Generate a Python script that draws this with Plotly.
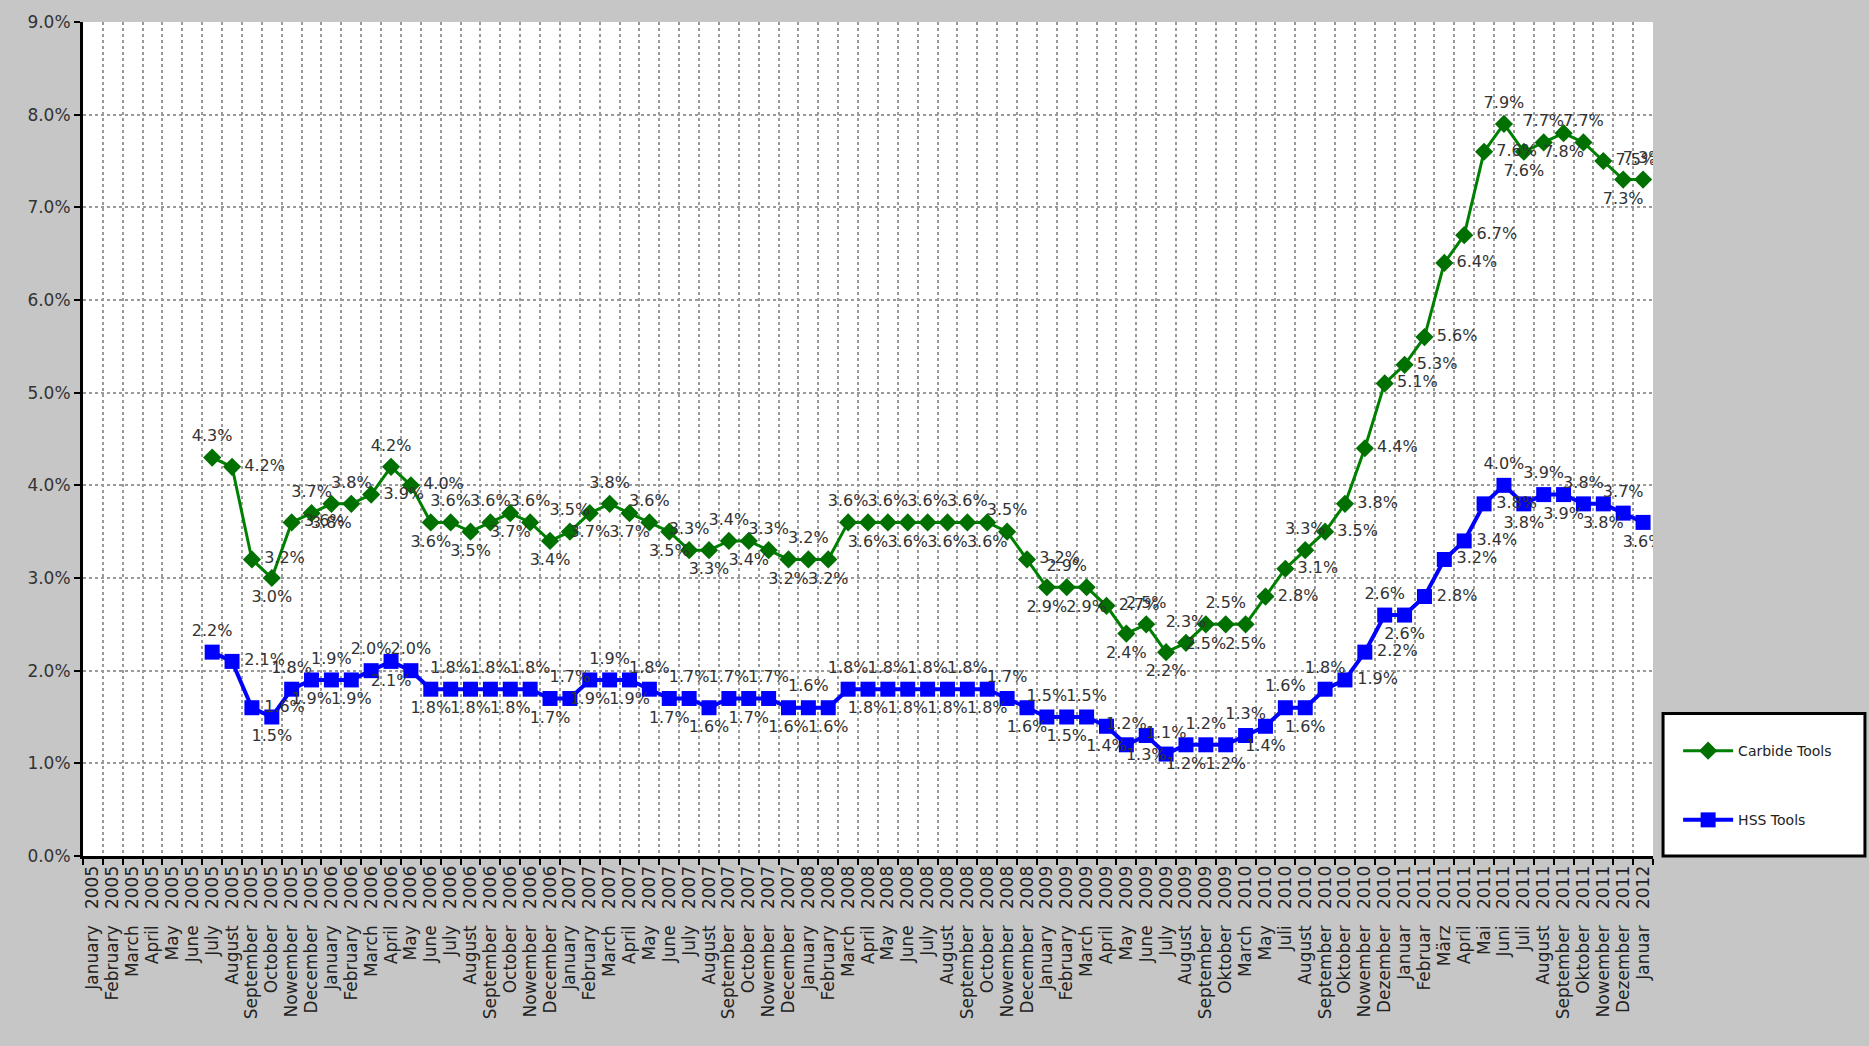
import plotly.graph_objects as go

# ---------------- data ----------------
categories = (
    [f"{m} 2005" for m in ["January", "February", "March", "April", "May", "June", "July", "August",
                           "September", "October", "Nowember", "December"]]
    + [f"{m} 2006" for m in ["January", "February", "March", "April", "May", "June", "July", "August",
                             "September", "October", "Nowember", "December"]]
    + [f"{m} 2007" for m in ["January", "February", "March", "April", "May", "June", "July", "August",
                             "September", "October", "Nowember", "December"]]
    + [f"{m} 2008" for m in ["January", "February", "March", "April", "May", "June", "July", "August",
                             "September", "October", "Nowember", "December"]]
    + [f"{m} 2009" for m in ["January", "February", "March", "April", "May", "June", "July", "August",
                             "September", "Oktober"]]
    + [f"{m} 2010" for m in ["March", "May", "Juli", "August", "September", "Oktober", "Nowember", "Dezember"]]
    + [f"{m} 2011" for m in ["Januar", "Februar", "März", "April", "Mai", "Juni", "Juli", "August",
                             "September", "Oktober", "Nowember", "Dezember"]]
    + ["Januar 2012"]
)

carbide = [None] * 6 + [
    4.3, 4.2, 3.2, 3.0, 3.6, 3.7, 3.8, 3.8, 3.9, 4.2,
    4.0, 3.6, 3.6, 3.5, 3.6, 3.7, 3.6, 3.4, 3.5, 3.7,
    3.8, 3.7, 3.6, 3.5, 3.3, 3.3, 3.4, 3.4, 3.3, 3.2,
    3.2, 3.2, 3.6, 3.6, 3.6, 3.6, 3.6, 3.6, 3.6, 3.6,
    3.5, 3.2, 2.9, 2.9, 2.9, 2.7, 2.4, 2.5, 2.2, 2.3,
    2.5, 2.5, 2.5, 2.8, 3.1, 3.3, 3.5, 3.8, 4.4, 5.1,
    5.3, 5.6, 6.4, 6.7, 7.6, 7.9, 7.6, 7.7, 7.8, 7.7,
    7.5, 7.3, 7.3,
]

hss = [None] * 6 + [
    2.2, 2.1, 1.6, 1.5, 1.8, 1.9, 1.9, 1.9, 2.0, 2.1,
    2.0, 1.8, 1.8, 1.8, 1.8, 1.8, 1.8, 1.7, 1.7, 1.9,
    1.9, 1.9, 1.8, 1.7, 1.7, 1.6, 1.7, 1.7, 1.7, 1.6,
    1.6, 1.6, 1.8, 1.8, 1.8, 1.8, 1.8, 1.8, 1.8, 1.8,
    1.7, 1.6, 1.5, 1.5, 1.5, 1.4, 1.2, 1.3, 1.1, 1.2,
    1.2, 1.2, 1.3, 1.4, 1.6, 1.6, 1.8, 1.9, 2.2, 2.6,
    2.6, 2.8, 3.2, 3.4, 3.8, 4.0, 3.8, 3.9, 3.9, 3.8,
    3.8, 3.7, 3.6,
]

y_ticks = [0, 1, 2, 3, 4, 5, 6, 7, 8, 9]
series_names = ["Carbide Tools", "HSS Tools"]

# ---------------- styling helpers ----------------
FONT = "DejaVu Sans"
ticktext = [c.replace(" ", "\u00a0\u00a0\u00a0") for c in categories]


def labels(vals):
    return [None if v is None else f"{v:.1f}%" for v in vals]


def positions(vals):
    """Label placement: right of steep sections, otherwise alternate above / below."""
    out = []
    n = len(vals)
    state = "bottom center"
    prev_right = False
    for i in range(n):
        v = vals[i]
        if v is None:
            out.append("top center")
            continue
        prev_v = vals[i - 1] if i > 0 and vals[i - 1] is not None else v
        next_v = vals[i + 1] if i < n - 1 and vals[i + 1] is not None else v
        if abs(next_v - prev_v) >= 0.4:
            out.append("middle right")
            prev_right = True
            continue
        if prev_right:
            state = "bottom center" if prev_v > v else "top center"
        else:
            state = "top center" if state == "bottom center" else "bottom center"
        prev_right = False
        out.append(state)
    return out


fig = go.Figure()

styles = [
    dict(color="#008000", width=3, symbol="diamond", size=14, mcolor="#007000", group="a"),
    dict(color="#0000FF", width=4, symbol="square", size=15, mcolor="#0000FF", group="b"),
]

for name, vals, st in zip(series_names, [carbide, hss], styles):
    fig.add_trace(go.Scatter(
        x=categories, y=vals, name=name, mode="lines+markers",
        line=dict(color=st["color"], width=st["width"]),
        marker=dict(symbol=st["symbol"], size=st["size"], color=st["mcolor"]),
        legendgroup=st["group"], connectgaps=False,
    ))
for name, vals, st in zip(series_names, [carbide, hss], styles):
    fig.add_trace(go.Scatter(
        x=categories, y=vals, mode="markers+text", showlegend=False,
        marker=dict(size=18, color="rgba(0,0,0,0)"),
        text=labels(vals), textposition=positions(vals),
        textfont=dict(family=FONT, size=16, color="#333333"),
        legendgroup=st["group"], hoverinfo="skip",
    ))

# legend frame (style element)
fig.add_shape(type="rect", xref="paper", yref="paper",
              x0=1.0064, x1=1.135, y0=0.0, y1=0.171,
              line=dict(color="black", width=3), fillcolor="white", layer="below")

fig.update_layout(
    width=1869, height=1046,
    margin=dict(l=83, r=216, t=16, b=190),
    paper_bgcolor="#c6c6c6",
    plot_bgcolor="white",
    font=dict(family=FONT, size=16, color="#333333"),
    showlegend=True,
    legend=dict(
        x=1.016, y=0.145, xanchor="left", yanchor="top",
        bgcolor="rgba(0,0,0,0)", borderwidth=0,
        font=dict(family=FONT, size=14, color="#222222"),
        tracegroupgap=48, itemwidth=50,
    ),
    xaxis=dict(
        type="category", categoryorder="array", categoryarray=categories,
        tickmode="array", tickvals=categories, ticktext=ticktext,
        tickangle=-90, tickson="boundaries", ticks="outside", ticklen=6, tickwidth=2,
        tickcolor="black",
        showline=True, linecolor="black", linewidth=3,
        showgrid=True, gridcolor="#9a9a9a", griddash="dot", gridwidth=2,
        tickfont=dict(family=FONT, size=17, color="#222222"),
        range=[-0.5, len(categories) - 0.5],
    ),
    yaxis=dict(
        range=[0, 9], tickmode="array", tickvals=y_ticks,
        ticktext=[f"{v:.1f}%" for v in y_ticks],
        ticks="outside", ticklen=6, tickwidth=2, tickcolor="black",
        showline=True, linecolor="black", linewidth=3,
        showgrid=True, gridcolor="#9a9a9a", griddash="dot", gridwidth=2,
        zeroline=False,
        tickfont=dict(family=FONT, size=17, color="#333333"),
    ),
)

fig.write_html(
    "out.html",
    config={"displayModeBar": False},
    post_script="document.body.style.margin='0';document.body.style.overflow='hidden';",
)
